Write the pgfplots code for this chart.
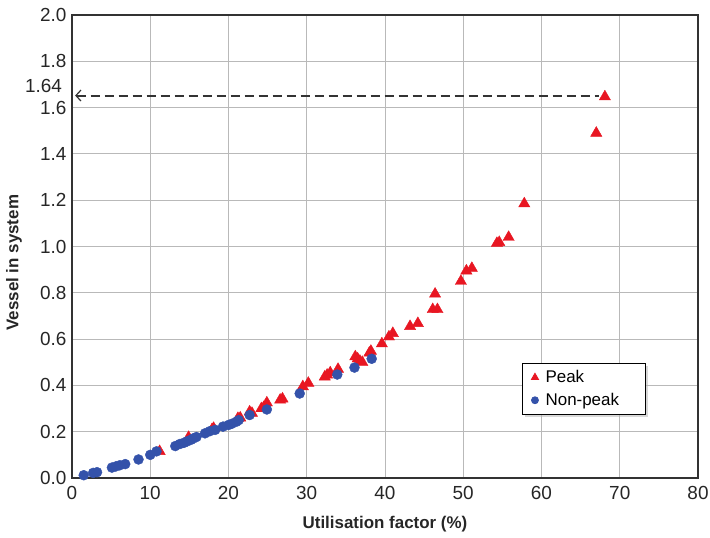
\documentclass[border=0pt]{standalone}
\usepackage{pgfplots}
\pgfplotsset{compat=1.18}
\usepackage{fontspec}
\setmainfont{Liberation Sans}
\usetikzlibrary{shadows,arrows.meta}
\definecolor{peakred}{RGB}{232,22,34}
\definecolor{npblue}{RGB}{52,82,170}
\definecolor{gridgray}{RGB}{185,185,185}
\definecolor{framegray}{RGB}{50,50,50}
\begin{document}
\begin{tikzpicture}
\begin{axis}[
  name=ax,
  scale only axis,
  width=626bp, height=463bp,
  xmin=0, xmax=80, ymin=0, ymax=2.0,
  clip mode=individual,
  xtick={0,10,...,80},
  ytick={0,0.2,...,2.0},
  /pgf/number format/assume math mode=true,
  tick label style={font=\fontsize{19}{21}\selectfont, text=black!85},
  xticklabel style={yshift=-5bp},
  yticklabel style={xshift=-2bp, /pgf/number format/.cd,fixed,fixed zerofill,precision=1},
  major tick length=0pt,
  grid=major,
  grid style={gridgray, line width=0.9bp},
  axis line style={framegray, line width=1.7bp},
  xlabel={\textbf{Utilisation factor (\%)}},
  ylabel={\textbf{Vessel in system}},
  label style={font=\fontsize{17}{19}\selectfont, text=black!85},
  xlabel style={at={(0.5,0)}, anchor=center, yshift=-46bp},
  ylabel style={at={(0,0.465)}, anchor=center, yshift=58bp},
  legend style={at={(axis cs:57.5,0.498)}, anchor=north west,
    draw=black, line width=0.8bp, fill=white,
    drop shadow={shadow xshift=2.5bp, shadow yshift=-2.5bp, fill=gray!60},
    font=\fontsize{17}{19}\selectfont, row sep=5bp, inner xsep=9bp, inner ysep=5.5bp,
    /tikz/every odd column/.append style={column sep=5bp}},
  legend cell align=left,
]
\addplot[only marks, mark=triangle*, mark size=6.5bp, color=peakred,
  legend image post style={mark size=4.2bp}] coordinates {
(11.2,0.115) (14.9,0.176) (17.9,0.21) (18.1,0.215) (21.2,0.258) (21.5,0.26)
(22.7,0.286) (23.0,0.28) (24.2,0.30) (24.5,0.305) (24.9,0.325) (26.6,0.337)
(26.9,0.342) (29.5,0.395) (30.2,0.41) (32.3,0.437) (32.6,0.445) (33.0,0.455)
(34.0,0.47) (36.2,0.524) (36.5,0.515) (36.8,0.505) (37.1,0.50) (38.0,0.54)
(38.2,0.548) (39.6,0.58) (40.5,0.61) (41.0,0.625) (43.2,0.655) (44.2,0.668)
(46.1,0.728) (46.7,0.728) (46.4,0.795) (49.7,0.85) (50.4,0.895) (51.1,0.906)
(54.3,1.014) (54.6,1.018) (55.8,1.04) (57.8,1.185) (67.0,1.49) (68.1,1.647)
};
\addlegendentry{Peak}
\addplot[only marks, mark=*, mark size=5bp, color=npblue,
  legend image post style={mark size=3.5bp}] coordinates {
(1.5,0.012) (2.7,0.022) (3.2,0.025) (5.1,0.045) (5.6,0.05) (6.1,0.055)
(6.8,0.06) (8.5,0.08) (10.0,0.10) (10.8,0.115) (13.2,0.138) (13.8,0.147)
(14.3,0.152) (14.7,0.158) (15.2,0.165) (15.5,0.171) (15.9,0.177) (17.0,0.193)
(17.6,0.202) (18.3,0.208) (19.3,0.222) (20.0,0.229) (20.4,0.234) (21.0,0.243)
(21.3,0.25) (22.7,0.272) (24.9,0.296) (29.1,0.365) (33.9,0.447) (36.1,0.477)
(38.3,0.515)
};
\addlegendentry{Non-peak\hspace*{15bp}}
\draw[black!80, line width=1.9bp, dash pattern=on 9bp off 5bp,
  {Straight Barb[length=5bp,width=11bp,line width=1.2bp]}-]
  (axis cs:0.4,1.652) -- (axis cs:67.3,1.652);
\node[anchor=east, font=\fontsize{19}{21}\selectfont, text=black!85, inner sep=0pt]
  at (axis cs:-1.25,1.695) {1.64};
\end{axis}
\pgfresetboundingbox
\path (ax.south west) ++(-72bp,-60bp) coordinate (bl);
\path (ax.north east) ++(12bp,15bp) coordinate (tr);
\path (bl) rectangle (tr);
\end{tikzpicture}
\end{document}
